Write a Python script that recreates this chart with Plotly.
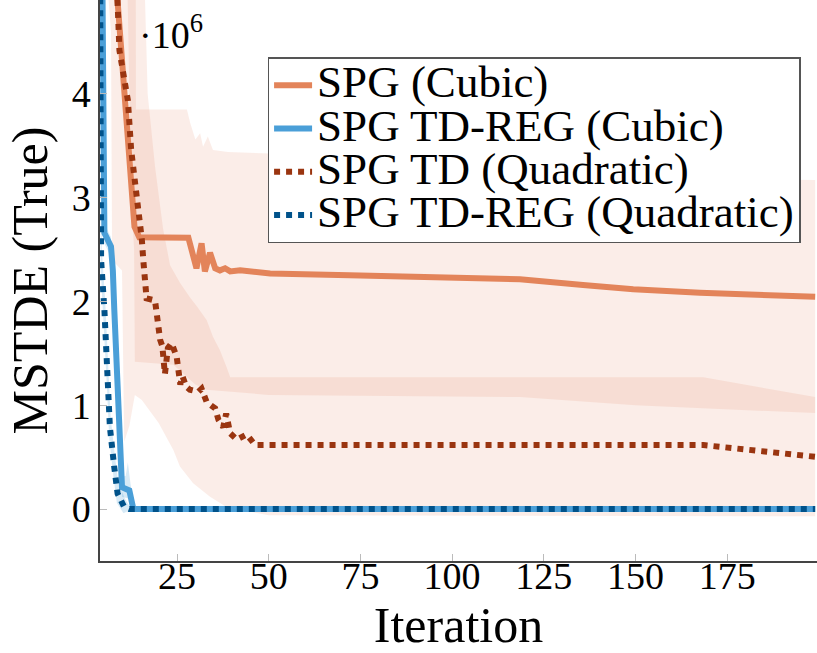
import plotly.graph_objects as go

# ---------------- data (values in units of 1e6) ----------------
# SPG (Cubic) mean
spg_cubic_x = [7.3, 10.2, 11.5, 12.4, 13.4, 14.7, 28.1, 30.3, 31.7, 32.6, 34.0, 35.4, 36.7,
               38.1, 39.5, 42.2, 50.4, 72.0, 118.5, 135.7, 149.4, 167.6, 199.0]
spg_cubic_y = [5.6, 4.26, 3.62, 3.14, 2.72, 2.62, 2.615, 2.32, 2.56, 2.29, 2.47, 2.32, 2.30,
               2.32, 2.29, 2.30, 2.27, 2.253, 2.214, 2.159, 2.118, 2.085, 2.045]
# SPG (Cubic) band
spg_cubic_up_x = [4.0, 13.7, 13.8, 27.7, 28.6, 30.0, 31.3, 32.1, 33.4, 34.8, 38.9, 48.1, 72.0, 118.5, 150.0, 170.0, 199.0]
spg_cubic_up_y = [6.5, 6.5, 3.85, 3.85, 3.72, 3.56, 3.62, 3.49, 3.59, 3.46, 3.44, 3.43, 3.40, 3.35, 3.22, 3.18, 3.17]
spg_cubic_lo_x = [4.0, 11.5, 12.5, 13.3, 13.5, 24.0, 27.0, 30.0, 33.0, 50.0, 118.5, 150.0, 199.0]
spg_cubic_lo_y = [6.5, 5.0, 3.0, 2.5, 1.42, 1.39, 1.30, 1.20, 1.15, 1.10, 1.08, 1.0, 0.925]

# SPG TD-REG (Cubic) mean
tdreg_cubic_x = [4.5, 4.7, 5.2, 7.0, 7.5, 7.9, 8.8, 9.3, 10.0, 12.0, 13.1, 199.0]
tdreg_cubic_y = [5.8, 4.9, 2.66, 2.53, 2.30, 1.92, 1.12, 0.64, 0.21, 0.18, 0.0, 0.0]
tdreg_cubic_up_x = [4.5, 5.2, 7.0, 8.8, 10.0, 11.0, 11.6, 12.3, 13.4, 199.0]
tdreg_cubic_up_y = [5.8, 2.75, 2.62, 1.22, 0.32, 0.32, 0.45, 0.25, 0.02, 0.0]
tdreg_cubic_lo_x = [4.5, 5.2, 7.0, 8.8, 10.0, 12.0, 13.0, 199.0]
tdreg_cubic_lo_y = [5.8, 2.56, 2.43, 1.02, 0.12, 0.10, -0.02, 0.0]

# SPG TD (Quadratic) mean
spg_td_quad_x = [8.0, 9.3, 10.2, 11.6, 12.5, 13.4, 14.6, 15.4, 15.8, 16.3, 16.7, 19.0, 19.4, 19.9,
                 20.4, 21.0, 21.7, 22.5, 23.5, 24.9, 25.4, 25.9, 26.5, 27.5, 28.5, 30.8, 31.7,
                 33.1, 35.4, 36.3, 37.6, 38.4, 39.5, 41.3, 44.0, 46.3, 168.5, 199.0]
spg_td_quad_y = [5.6, 4.42, 4.23, 3.94, 3.46, 3.20, 2.88, 2.60, 2.40, 2.14, 2.03, 2.01, 1.87, 1.74,
                 1.63, 1.57, 1.30, 1.55, 1.60, 1.47, 1.36, 1.20, 1.28, 1.18, 1.15, 1.13, 1.16,
                 1.03, 0.97, 0.86, 0.79, 0.92, 0.73, 0.67, 0.72, 0.617, 0.617, 0.504]
# SPG TD (Quadratic) band
spg_td_quad_up_x = [4.0, 15.0, 17.0, 19.0, 21.2, 23.1, 25.8, 28.5, 30.5, 33.1, 34.8, 36.7, 38.5, 39.5, 168.5, 199.0]
spg_td_quad_up_y = [7.0, 6.5, 4.0, 3.3, 2.7, 2.35, 2.18, 2.04, 1.95, 1.82, 1.66, 1.53, 1.37, 1.27, 1.27, 1.08]
spg_td_quad_lo_x = [4.0, 7.0, 7.3, 10.0, 10.6, 12.0, 13.5, 15.4, 20.0, 24.0, 25.8, 29.4, 34.0, 38.5, 50.0, 199.0]
spg_td_quad_lo_y = [6.0, 4.6, 2.4, 2.3, 0.65, 0.80, 1.10, 1.05, 0.83, 0.57, 0.41, 0.25, 0.12, 0.02, -0.06, -0.07]

# SPG TD-REG (Quadratic) mean
tdreg_quad_x = [4.0, 4.3, 5.2, 6.1, 6.7, 7.9, 8.8, 10.6, 12.0, 199.0]
tdreg_quad_y = [5.5, 2.4, 1.92, 1.27, 0.79, 0.40, 0.15, 0.02, 0.0, 0.0]
tdreg_quad_up_x = [4.0, 4.5, 5.4, 6.3, 6.9, 8.1, 9.0, 10.8, 12.5, 199.0]
tdreg_quad_up_y = [5.5, 2.5, 2.02, 1.37, 0.89, 0.50, 0.25, 0.10, 0.0, 0.0]
tdreg_quad_lo_x = [4.0, 4.2, 5.0, 5.9, 6.5, 7.7, 8.6, 10.4, 11.5, 199.0]
tdreg_quad_lo_y = [5.5, 2.3, 1.82, 1.17, 0.69, 0.30, 0.06, -0.04, -0.02, 0.0]

names = ["SPG (Cubic)", "SPG TD-REG (Cubic)", "SPG TD (Quadratic)", "SPG TD-REG (Quadratic)"]
x_ticks = [25, 50, 75, 100, 125, 150, 175]
y_ticks = [0, 1, 2, 3, 4]
y_tick_labels = ["0", "1", "2", "3", "4"]

# ---------------- styles ----------------
C_ORANGE = "#E3845A"
C_LBLUE = "#4A9FD8"
C_BROWN = "#9A3510"
C_DBLUE = "#00528A"
F_ORANGE = "rgba(226,128,90,0.14)"
F_BLUE = "rgba(74,159,216,0.22)"
FONT = "Liberation Serif, Times New Roman, serif"
LEG_TXT = 45


def band(xu, yu, xl, yl, color):
    return go.Scatter(x=list(xu) + list(xl)[::-1], y=list(yu) + list(yl)[::-1],
                      fill="toself", fillcolor=color, line=dict(width=0),
                      mode="lines", showlegend=False, hoverinfo="skip")


def leg(name):
    return '<span style="font-size:%dpx">%s</span>' % (LEG_TXT, name)


fig = go.Figure()
fig.add_trace(band(spg_cubic_up_x, spg_cubic_up_y, spg_cubic_lo_x, spg_cubic_lo_y, F_ORANGE))
fig.add_trace(band(spg_td_quad_up_x, spg_td_quad_up_y, spg_td_quad_lo_x, spg_td_quad_lo_y, F_ORANGE))
fig.add_trace(band(tdreg_cubic_up_x, tdreg_cubic_up_y, tdreg_cubic_lo_x, tdreg_cubic_lo_y, F_BLUE))
fig.add_trace(band(tdreg_quad_up_x, tdreg_quad_up_y, tdreg_quad_lo_x, tdreg_quad_lo_y, F_BLUE))

fig.add_trace(go.Scatter(x=spg_cubic_x, y=spg_cubic_y, mode="lines", name=leg(names[0]),
                         line=dict(color=C_ORANGE, width=6)))
fig.add_trace(go.Scatter(x=tdreg_cubic_x, y=tdreg_cubic_y, mode="lines", name=leg(names[1]),
                         line=dict(color=C_LBLUE, width=6)))
fig.add_trace(go.Scatter(x=spg_td_quad_x, y=spg_td_quad_y, mode="lines", name=leg(names[2]),
                         line=dict(color=C_BROWN, width=6, dash="dot")))
fig.add_trace(go.Scatter(x=tdreg_quad_x, y=tdreg_quad_y, mode="lines", name=leg(names[3]),
                         line=dict(color=C_DBLUE, width=6, dash="dot")))

fig.update_layout(
    width=817, height=653,
    margin=dict(l=100, r=0, t=0, b=92),
    paper_bgcolor="white", plot_bgcolor="white",
    font=dict(family=FONT, color="black"),
    legend=dict(x=0.234, y=0.898, xanchor="left", yanchor="top",
                bgcolor="white", bordercolor="#555555", borderwidth=1.3,
                itemwidth=38,
                font=dict(family=FONT, size=31, color="black")),
    annotations=[dict(text="·10<sup>6</sup>", xref="paper", yref="paper",
                      x=0.052, y=0.99, xanchor="left", yanchor="top",
                      showarrow=False, font=dict(family=FONT, size=38, color="black"))],
)
fig.update_xaxes(range=[4, 199.5], tickvals=x_ticks, ticks="inside", ticklen=7,
                 tickcolor="#bbbbbb", tickwidth=1, showgrid=False, zeroline=False,
                 showline=True, linecolor="#444444", linewidth=1.5,
                 ticklabelstandoff=-19, automargin=False,
                 tickfont=dict(family=FONT, size=38, color="black"),
                 title=dict(text="Iteration", font=dict(family=FONT, size=50, color="black"), standoff=30))
fig.update_yaxes(range=[-0.5, 4.905], tickvals=y_ticks, ticktext=y_tick_labels,
                 ticks="inside", ticklen=7, tickcolor="#bbbbbb", tickwidth=1,
                 showgrid=False, zeroline=False, showline=True, linecolor="#444444",
                 linewidth=1.5, automargin=False, tickfont=dict(family=FONT, size=38, color="black"),
                 title=dict(text="MSTDE (True)", font=dict(family=FONT, size=50, color="black"), standoff=8))

fig.write_html("out.html")
